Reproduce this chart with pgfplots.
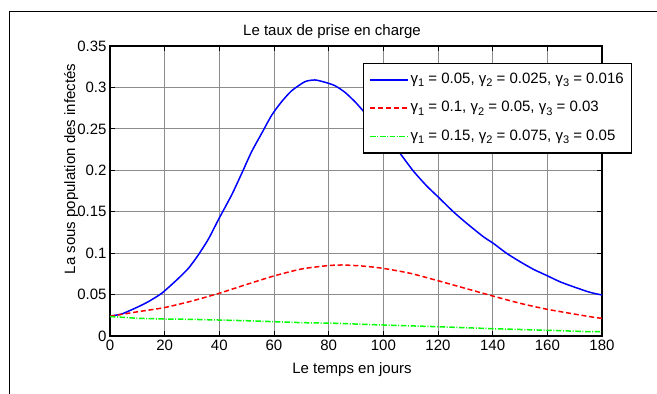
\documentclass[border=0pt]{standalone}
\usepackage{fontspec}
\setmainfont{Liberation Sans}
\usepackage{pgfplots}
\pgfplotsset{compat=1.18}

% subscript as set in the legend entries
\newcommand{\sub}[1]{\raisebox{-3.5pt}{\fontsize{11}{11}\selectfont #1}}

\begin{document}
\begin{tikzpicture}[font=\fontsize{15}{18}\selectfont]
\useasboundingbox (0pt,0pt) rectangle (657pt,394pt);
% figure frame
\draw[line width=1.2pt] (9.3pt,0pt) -- (9.3pt,382.3pt) -- (657pt,382.3pt);

\begin{axis}[
  at={(110pt,58pt)}, anchor=south west,
  width=492pt, height=290pt, scale only axis,
  xmin=0, xmax=180, ymin=0, ymax=0.35,
  xtick={0,20,...,180},
  ytick={0,0.05,0.1,0.15,0.2,0.25,0.3,0.35},
  yticklabels={0,0.05,0.1,0.15,0.2,0.25,0.3,0.35},
  /pgf/number format/assume math mode=true,
  tick align=inside, major tick length=5pt,
  tick style={black, line width=0.8pt},
  axis line style={line width=1.3pt},
  grid=major,
  major grid style={black!45, line width=0.8pt},
  title={Le taux de prise en charge},
  title style={at={(axis description cs:0.4512,1.0172)}, anchor=base, inner sep=0pt},
  xlabel={Le temps en jours},
  xlabel style={at={(axis description cs:0.4919,-0.130)}, anchor=base, inner sep=0pt},
  ylabel={La sous population des infectés},
  ylabel style={at={(axis description cs:-0.0711,0.5759)}, anchor=base, inner sep=0pt},
  legend image code/.code={\draw[#1] (0pt,0pt) -- (37.6pt,0pt);},
  legend cell align=left,
  legend style={
    at={(axis description cs:0.5142,0.9424)}, anchor=north west,
    draw=black, line width=1.2pt, fill=white,
    inner xsep=6pt, inner ysep=7pt, row sep=9.35pt,
    nodes={inner sep=2pt, text height=11pt, text depth=4pt},
    font=\fontsize{15}{18}\selectfont},
]
\addplot[blue, line width=1.5pt, smooth, tension=0.4] coordinates {
  (0,0.0241) (4.3,0.0266) (10.4,0.0354) (14,0.0414) (18.9,0.0515)
  (24.4,0.0676) (28.7,0.0817) (32.3,0.0978) (36,0.1170) (39.6,0.140)
  (44.5,0.1702) (48.2,0.1963) (51.8,0.2224) (55.5,0.2446) (59.2,0.2667)
  (62.8,0.2828) (66.5,0.2961) (71.3,0.3069) (75,0.3090) (78.7,0.3062)
  (82.3,0.3021) (86,0.2940) (89.6,0.2828) (92,0.2740) (96,0.259)
  (100,0.244) (104,0.229) (106.1,0.2205) (111,0.1990) (115.9,0.1810)
  (120,0.168) (125.6,0.150) (130.5,0.136) (136.6,0.1198) (140.2,0.1119)
  (145.1,0.0998) (150,0.0897) (154.9,0.0805) (159.8,0.0730) (164.6,0.0655)
  (169.5,0.0595) (175.6,0.0527) (180,0.0495)
};
\addlegendentry{γ\sub{1} = 0.05, γ\sub{2} = 0.025, γ\sub{3} = 0.016}
\addplot[red, line width=1.5pt, smooth, tension=0.4, dash pattern=on 5pt off 2.8pt] coordinates {
  (0,0.0238) (10.4,0.0294) (19.8,0.0342) (29.9,0.0422) (39.9,0.0515)
  (49.4,0.0616) (59.9,0.0724) (70.1,0.0809) (79.6,0.0849) (84.8,0.0857)
  (92.1,0.0845) (99.8,0.0817) (109.8,0.0757) (119.9,0.0668) (129.9,0.0576)
  (140,0.0483) (150,0.0395) (160,0.0322) (175.6,0.0233) (180,0.0213)
};
\addlegendentry{γ\sub{1} = 0.1, γ\sub{2} = 0.05, γ\sub{3} = 0.03}
\addplot[green, line width=1.5pt, dash pattern=on 5.5pt off 1.6pt on 1pt off 1.6pt] coordinates {
  (0,0.0235) (10.4,0.0213) (20,0.0205) (29.9,0.0201) (49.4,0.0185)
  (70.1,0.0161) (83.6,0.0153) (92.1,0.0141) (99.8,0.0133) (120,0.0112)
  (140,0.0088) (160,0.0069) (175.6,0.0052) (180,0.0052)
};
\addlegendentry{γ\sub{1} = 0.15, γ\sub{2} = 0.075, γ\sub{3} = 0.05}
\end{axis}
\end{tikzpicture}
\end{document}
